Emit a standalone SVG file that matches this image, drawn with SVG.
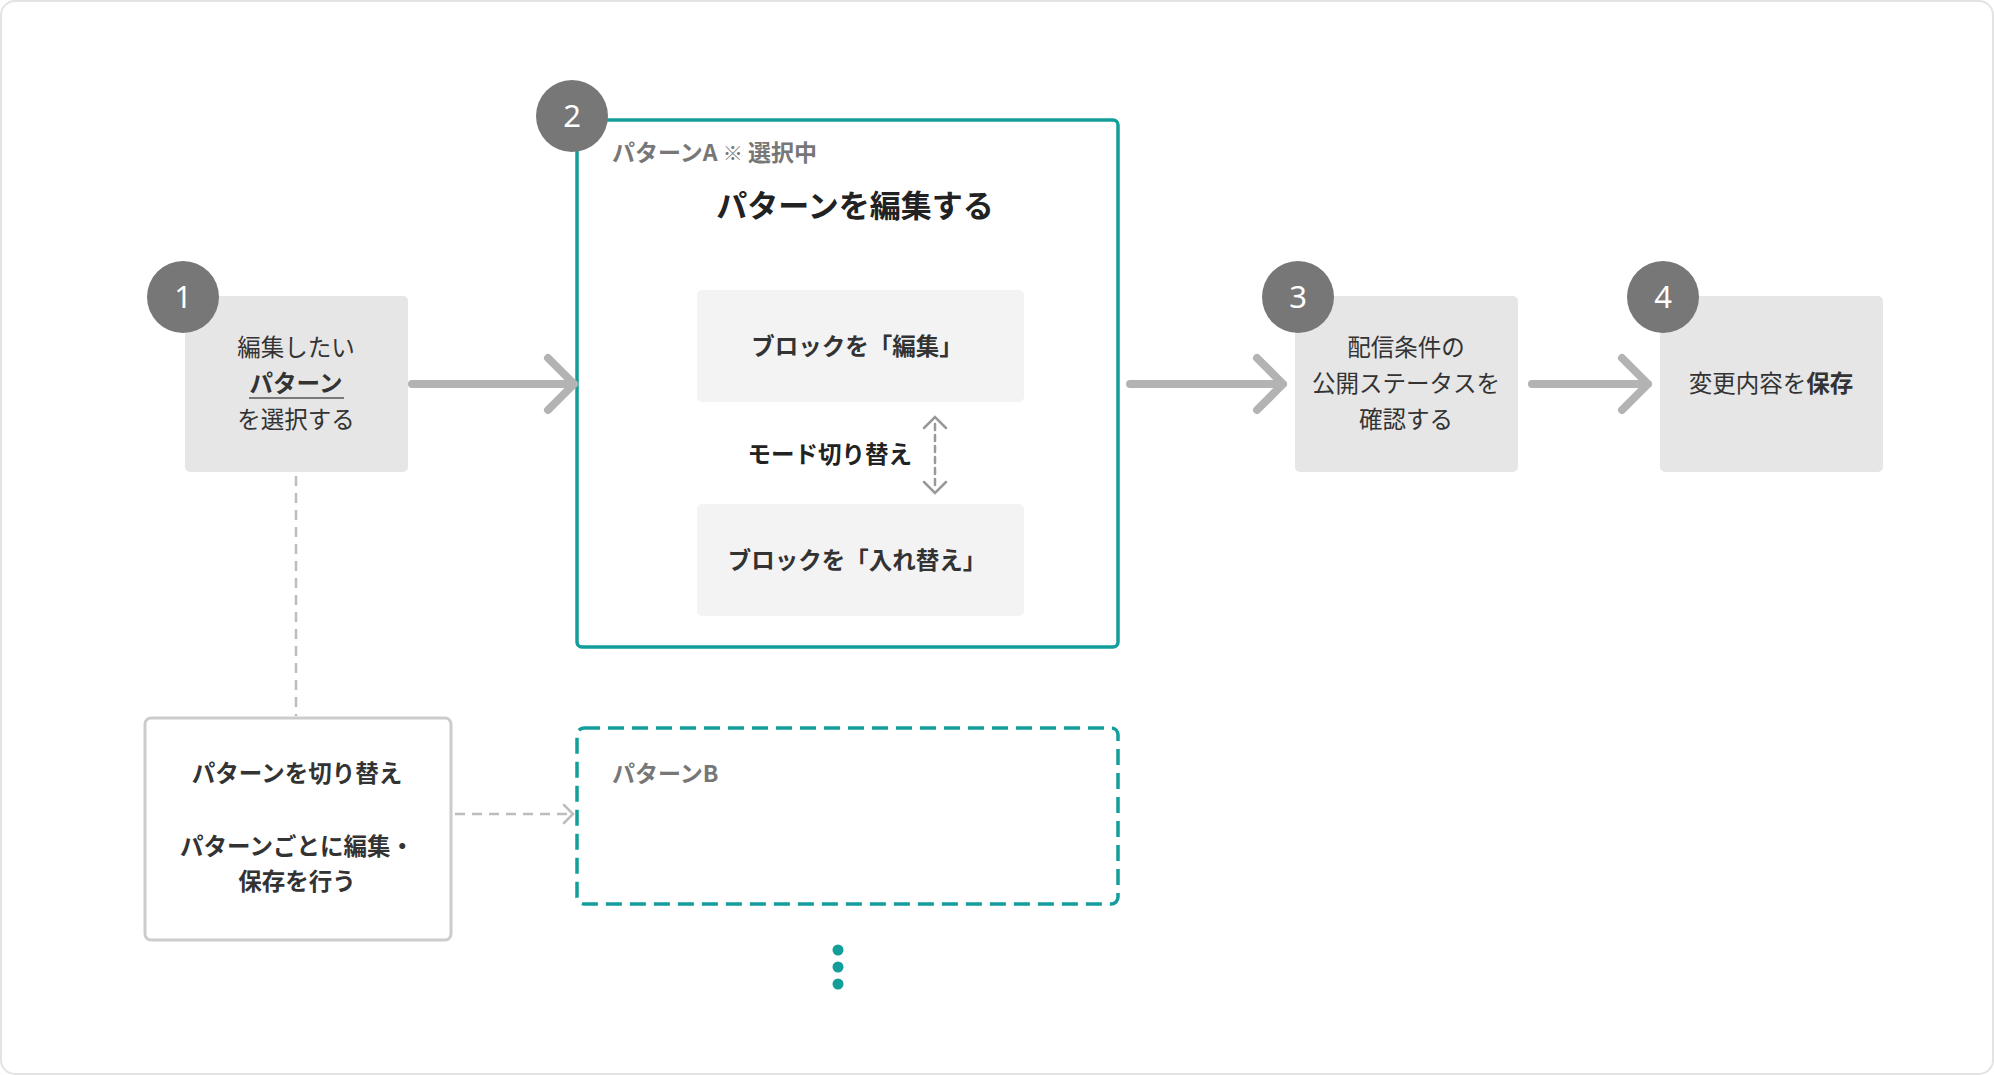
<svg xmlns="http://www.w3.org/2000/svg" width="1994" height="1075" viewBox="0 0 1994 1075">
<style>
text{font-family:"Noto Sans CJK JP","Noto Sans",sans-serif;}
.step{fill:#e6e6e6;}
.num{fill:#fff;font-family:"Noto Sans","Noto Sans CJK JP",sans-serif;font-size:31px;text-anchor:middle;}
.badge{fill:#777;}
.t{fill:#333;font-size:23.5px;text-anchor:middle;}
.b{font-weight:bold;}
.lbl{fill:#777;font-size:23px;font-weight:bold;}
.arrow{stroke:#b3b3b3;stroke-width:8;stroke-linecap:round;stroke-linejoin:round;fill:none;}
.inner{fill:#f3f3f3;}
</style>
<rect x="1" y="1" width="1992" height="1073" rx="14" fill="#fff" stroke="#e3e3e3" stroke-width="2"/>

<g id="node1">
  <rect class="step" x="185" y="296" width="223" height="176" rx="5"/>
  <circle class="badge" cx="183" cy="297" r="36"/>
  <text class="num" x="183" y="308">1</text>
  <text class="t" x="296" y="356">編集したい</text>
  <text class="t b" x="296" y="392">パターン</text>
  <line x1="249" y1="398" x2="344" y2="398" stroke="#555" stroke-width="1.5"/>
  <text class="t" x="296" y="428">を選択する</text>
</g>

<g id="node2">
  <rect x="577" y="120" width="541" height="527" rx="5" fill="#fff" stroke="#139e9b" stroke-width="3.5"/>
  <circle class="badge" cx="572" cy="116" r="36"/>
  <text class="num" x="572" y="127">2</text>
  <text class="lbl" x="612" y="161">パターンA <tspan font-size="20">※</tspan> 選択中</text>
  <text x="855" y="217" font-size="31" font-weight="bold" fill="#222" text-anchor="middle">パターンを編集する</text>
  <g id="block-edit">
    <rect class="inner" x="697" y="290" width="327" height="112" rx="5"/>
    <text class="t b" x="857" y="355">ブロックを「編集」</text>
  </g>
  <text class="b" x="912" y="463" font-size="23.5" fill="#222" text-anchor="end">モード切り替え</text>
  <g id="block-swap">
    <rect class="inner" x="697" y="504" width="327" height="112" rx="5"/>
    <text class="t b" x="857" y="569">ブロックを「入れ替え」</text>
  </g>
</g>

<g id="node3">
  <rect class="step" x="1295" y="296" width="223" height="176" rx="5"/>
  <circle class="badge" cx="1298" cy="297" r="36"/>
  <text class="num" x="1298" y="308">3</text>
  <text class="t" x="1406" y="356">配信条件の</text>
  <text class="t" x="1406" y="392">公開ステータスを</text>
  <text class="t" x="1406" y="428">確認する</text>
</g>

<g id="node4">
  <rect class="step" x="1660" y="296" width="223" height="176" rx="5"/>
  <circle class="badge" cx="1663" cy="297" r="36"/>
  <text class="num" x="1663" y="308">4</text>
  <text class="t" x="1771" y="392">変更内容を<tspan font-weight="bold">保存</tspan></text>
</g>

<g id="node5">
  <rect x="145" y="718" width="306" height="222" rx="6" fill="#fff" stroke="#cccccc" stroke-width="3"/>
  <text class="t b" x="297" y="782">パターンを切り替え</text>
  <text class="t b" x="297" y="855">パターンごとに編集・</text>
  <text class="t b" x="297" y="890">保存を行う</text>
</g>

<g id="node6">
  <rect x="577" y="728" width="541" height="176" rx="7" fill="#fff" stroke="#139e9b" stroke-width="3.5" stroke-dasharray="16 8"/>
  <text class="lbl" x="612" y="782">パターンB</text>
</g>

<g id="more" fill="#139e9b">
  <circle cx="838" cy="950" r="5.5"/>
  <circle cx="838" cy="967" r="5.5"/>
  <circle cx="838" cy="984" r="5.5"/>
</g>

<g id="connectors">
  <path class="arrow" d="M412 384 H574 M548 358 L574 384 L548 410"/>
  <path class="arrow" d="M1130 384 H1283 M1257 358 L1283 384 L1257 410"/>
  <path class="arrow" d="M1532 384 H1648 M1622 358 L1648 384 L1622 410"/>
  <line x1="296" y1="476" x2="296" y2="716" stroke="#bdbdbd" stroke-width="2.5" stroke-dasharray="10 7"/>
  <path d="M455 814 H572" stroke="#bdbdbd" stroke-width="2.5" stroke-dasharray="10 7" fill="none"/>
  <path d="M564 805 L573 814 L564 823" stroke="#bdbdbd" stroke-width="2.5" fill="none" stroke-linecap="round"/>
  <g id="mode-switch" stroke="#999" stroke-width="2.5" fill="none" stroke-linecap="round">
    <line x1="935" y1="424" x2="935" y2="486" stroke-dasharray="6 5"/>
    <path d="M924 428 L935 417 L946 428"/>
    <path d="M924 482 L935 493 L946 482"/>
  </g>
</g>
</svg>
